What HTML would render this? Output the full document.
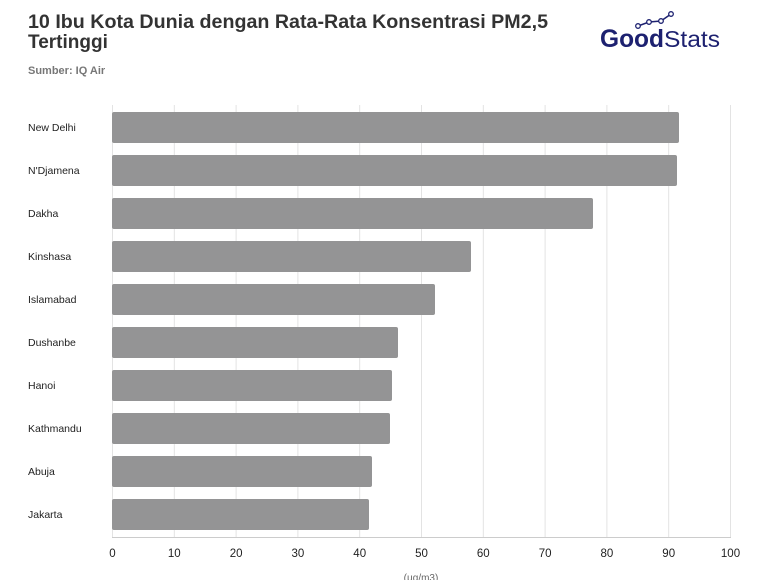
<!DOCTYPE html>
<html><head><meta charset="utf-8"><style>
body{margin:0;background:#fff;width:770px;height:580px;overflow:hidden;font-family:"Liberation Sans",sans-serif}
</style></head><body>
<svg width="770" height="580" xmlns="http://www.w3.org/2000/svg" font-family="Liberation Sans, sans-serif">
<text x="28" y="28" font-size="19" font-weight="bold" fill="#333" textLength="520" lengthAdjust="spacingAndGlyphs">10 Ibu Kota Dunia dengan Rata-Rata Konsentrasi PM2,5</text>
<text x="28" y="48" font-size="19" font-weight="bold" fill="#333">Tertinggi</text>
<text x="28" y="74" font-size="11" font-weight="bold" fill="#777">Sumber: IQ Air</text>
<g>
<polyline points="638,26 649,22 661,21 671,14" fill="none" stroke="#1d2170" stroke-width="1.5"/>
<circle cx="638" cy="26" r="2.3" fill="#fff" stroke="#1d2170" stroke-width="1.3"/>
<circle cx="649" cy="22" r="2.3" fill="#fff" stroke="#1d2170" stroke-width="1.3"/>
<circle cx="661" cy="21" r="2.3" fill="#fff" stroke="#1d2170" stroke-width="1.3"/>
<circle cx="671" cy="14" r="2.3" fill="#fff" stroke="#1d2170" stroke-width="1.3"/>
<text x="600" y="47" font-size="25" font-weight="bold" fill="#1d2170" textLength="64" lengthAdjust="spacingAndGlyphs">Good</text>
<text x="664" y="47" font-size="23" fill="#1d2170" textLength="56" lengthAdjust="spacingAndGlyphs">Stats</text>
</g>
<g stroke="#e3e3e3" stroke-width="1">
<line x1="112.5" y1="105" x2="112.5" y2="537"/>
<line x1="174.3" y1="105" x2="174.3" y2="537"/>
<line x1="236.1" y1="105" x2="236.1" y2="537"/>
<line x1="297.9" y1="105" x2="297.9" y2="537"/>
<line x1="359.7" y1="105" x2="359.7" y2="537"/>
<line x1="421.5" y1="105" x2="421.5" y2="537"/>
<line x1="483.3" y1="105" x2="483.3" y2="537"/>
<line x1="545.1" y1="105" x2="545.1" y2="537"/>
<line x1="606.9" y1="105" x2="606.9" y2="537"/>
<line x1="668.7" y1="105" x2="668.7" y2="537"/>
<line x1="730.5" y1="105" x2="730.5" y2="537"/>
<line x1="112" y1="537.5" x2="731" y2="537.5" stroke="#ccc"/>
</g>
<g fill="#949495">
<rect x="112" y="112" width="567" height="31" rx="2"/>
<rect x="112" y="155" width="565" height="31" rx="2"/>
<rect x="112" y="198" width="481" height="31" rx="2"/>
<rect x="112" y="241" width="359" height="31" rx="2"/>
<rect x="112" y="284" width="323" height="31" rx="2"/>
<rect x="112" y="327" width="286" height="31" rx="2"/>
<rect x="112" y="370" width="280" height="31" rx="2"/>
<rect x="112" y="413" width="278" height="31" rx="2"/>
<rect x="112" y="456" width="260" height="31" rx="2"/>
<rect x="112" y="499" width="257" height="31" rx="2"/>
</g>
<g font-size="10.5" fill="#222">
<text x="28" y="131">New Delhi</text>
<text x="28" y="174">N'Djamena</text>
<text x="28" y="217">Dakha</text>
<text x="28" y="260">Kinshasa</text>
<text x="28" y="303">Islamabad</text>
<text x="28" y="346">Dushanbe</text>
<text x="28" y="389">Hanoi</text>
<text x="28" y="432">Kathmandu</text>
<text x="28" y="475">Abuja</text>
<text x="28" y="518">Jakarta</text>
</g>
<g font-size="11.5" fill="#222" text-anchor="middle">
<text x="112.5" y="557">0</text><text x="174.3" y="557">10</text><text x="236.1" y="557">20</text>
<text x="297.9" y="557">30</text><text x="359.7" y="557">40</text><text x="421.5" y="557">50</text>
<text x="483.3" y="557">60</text><text x="545.1" y="557">70</text><text x="606.9" y="557">80</text>
<text x="668.7" y="557">90</text><text x="730.5" y="557">100</text>
<text x="421" y="581" font-size="10" fill="#666">(µg/m3)</text>
</g>
</svg>
</body></html>
